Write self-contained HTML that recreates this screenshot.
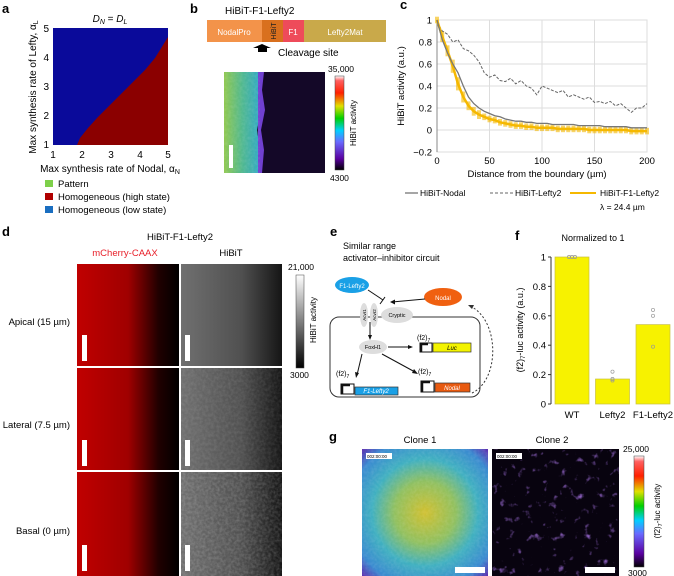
<!DOCTYPE html>
<html><head><meta charset="utf-8"><style>
body{margin:0;background:#fff;width:674px;height:576px;overflow:hidden;font-family:"Liberation Sans",sans-serif}
svg{display:block}
text{font-family:"Liberation Sans",sans-serif}
</style></head><body>
<svg id="fig" width="674" height="576" viewBox="0 0 674 576" xmlns="http://www.w3.org/2000/svg">
<defs>
<linearGradient id="rainbow" x1="0" y1="1" x2="0" y2="0">
<stop offset="0" stop-color="#000"/><stop offset="0.12" stop-color="#5a00a0"/><stop offset="0.3" stop-color="#6a6aff"/><stop offset="0.42" stop-color="#00d0ff"/><stop offset="0.55" stop-color="#00d000"/><stop offset="0.68" stop-color="#e0e000"/><stop offset="0.82" stop-color="#ff2000"/><stop offset="0.95" stop-color="#ff6060"/><stop offset="1" stop-color="#fff"/>
</linearGradient>
<linearGradient id="gray" x1="0" y1="1" x2="0" y2="0"><stop offset="0" stop-color="#000"/><stop offset="1" stop-color="#fff"/></linearGradient>
<linearGradient id="bleft" x1="0" y1="0" x2="1" y2="0"><stop offset="0" stop-color="#90c850"/><stop offset="0.5" stop-color="#50b890"/><stop offset="1" stop-color="#30a8c8"/></linearGradient>
<linearGradient id="red" x1="0" y1="0" x2="1" y2="0"><stop offset="0" stop-color="#c00000"/><stop offset="0.5" stop-color="#a00000"/><stop offset="0.8" stop-color="#200000"/><stop offset="1" stop-color="#000"/></linearGradient>
<linearGradient id="gimg" x1="0" y1="0" x2="1" y2="0"><stop offset="0" stop-color="#707070"/><stop offset="0.6" stop-color="#505050"/><stop offset="1" stop-color="#151515"/></linearGradient>
<radialGradient id="clone1" cx="0.5" cy="0.5" r="0.7"><stop offset="0" stop-color="#d0c030"/><stop offset="0.35" stop-color="#90c060"/><stop offset="0.6" stop-color="#40b0c0"/><stop offset="0.85" stop-color="#3a8ad0"/><stop offset="1" stop-color="#5a30b0"/></radialGradient>
<filter id="noise"><feTurbulence type="fractalNoise" baseFrequency="0.35" numOctaves="2" seed="3"/><feColorMatrix values="0 0 0 0 1  0 0 0 0 1  0 0 0 0 1  0 0 0 0.5 -0.15"/><feComposite in2="SourceGraphic" operator="in"/></filter>
<filter id="specks"><feTurbulence type="fractalNoise" baseFrequency="0.12" numOctaves="3" seed="7"/><feColorMatrix values="0 0 0 0 0.45  0 0 0 0 0.2  0 0 0 0 0.9  0 0 0 4 -2.6"/><feComposite in2="SourceGraphic" operator="in"/></filter>
</defs>

<!-- Panel a -->
<g>
<text x="2" y="13" font-size="13" font-weight="bold">a</text>
<text x="110" y="22" font-size="10" text-anchor="middle" font-style="italic">D<tspan font-size="7" dy="2">N</tspan><tspan dy="-2" font-style="normal"> = </tspan>D<tspan font-size="7" dy="2">L</tspan></text>
<rect x="53" y="28" width="115" height="117" fill="#0a0a9a"/>
<polygon points="77,145 80,138 88,128 97,118 105,110 115,100 125,90 135,80 145,70 155,58 168,37 168,145" fill="#8b0000"/>
<g font-size="10" text-anchor="end">
<text x="49" y="32">5</text><text x="49" y="61">4</text><text x="49" y="90">3</text><text x="49" y="119">2</text><text x="49" y="148">1</text></g>
<g font-size="10" text-anchor="middle">
<text x="53" y="158">1</text><text x="82" y="158">2</text><text x="111" y="158">3</text><text x="140" y="158">4</text><text x="168" y="158">5</text></g>
<text x="110" y="172" font-size="10" text-anchor="middle">Max synthesis rate of Nodal, α<tspan font-size="7" dy="2">N</tspan></text>
<text transform="translate(36,87) rotate(-90)" font-size="10" text-anchor="middle">Max synthesis rate of Lefty, α<tspan font-size="7" dy="2">L</tspan></text>
<rect x="45" y="180" width="8" height="7" fill="#7ed04a"/>
<text x="58" y="187" font-size="9.5">Pattern</text>
<rect x="45" y="193" width="8" height="7" fill="#b00000"/>
<text x="58" y="200" font-size="9.5">Homogeneous (high state)</text>
<rect x="45" y="206" width="8" height="7" fill="#1a6ec0"/>
<text x="58" y="213" font-size="9.5">Homogeneous (low state)</text>
</g>

<!-- Panel b -->
<g>
<text x="190" y="13" font-size="13" font-weight="bold">b</text>
<text x="225" y="14" font-size="10">HiBiT-F1-Lefty2</text>
<rect x="207" y="20" width="55" height="22" fill="#f3934a"/>
<text x="234" y="35" font-size="8" fill="#fff" text-anchor="middle">NodalPro</text>
<rect x="262" y="20" width="21" height="22" fill="#d9701e"/>
<text transform="translate(276,31) rotate(-90)" font-size="7" text-anchor="middle" fill="#222">HiBiT</text>
<rect x="283" y="20" width="21" height="22" fill="#ee4b5a"/>
<text x="293" y="35" font-size="8" fill="#fff" text-anchor="middle">F1</text>
<rect x="304" y="20" width="82" height="22" fill="#c9a94a"/>
<text x="345" y="35" font-size="8" fill="#fff" text-anchor="middle">Lefty2Mat</text>
<polygon points="253,48 262,44 271,48 267,48 267,52 258,52 258,48" fill="#000"/>
<text x="278" y="56" font-size="10">Cleavage site</text>
<rect x="224" y="72" width="101" height="101" fill="#140828"/>
<path d="M224,72 H260 L258,90 L261,110 L257,130 L260,150 L258,173 H224 Z" fill="url(#bleft)"/>
<path d="M258,72 H264 L262,90 L265,110 L261,130 L264,150 L262,173 H258 Z" fill="#7040d0"/>
<rect x="224" y="72" width="36" height="101" fill="#ff0" filter="url(#noise)" opacity="0.35"/>
<rect x="229" y="145" width="4" height="23" fill="#fff"/>
<rect x="335" y="76" width="9" height="94" fill="url(#rainbow)" stroke="#444" stroke-width="0.5"/>
<text x="328" y="72" font-size="8.5">35,000</text>
<text x="330" y="181" font-size="8.5">4300</text>
<text transform="translate(356,123) rotate(-90)" font-size="8" text-anchor="middle">HiBiT activity</text>
</g>

<!-- Panel c -->
<g id="panelC">
<text x="400" y="9" font-size="13" font-weight="bold">c</text>
<text transform="translate(404,86) rotate(-90)" font-size="9.5" text-anchor="middle">HiBiT activity (a.u.)</text>
<text x="537" y="177" font-size="9.5" text-anchor="middle">Distance from the boundary (µm)</text>
<line x1="405" y1="193" x2="418" y2="193" stroke="#888" stroke-width="1.5"/>
<text x="420" y="196" font-size="8.5">HiBiT-Nodal</text>
<line x1="490" y1="193" x2="513" y2="193" stroke="#666" stroke-width="1" stroke-dasharray="3,2"/>
<text x="515" y="196" font-size="8.5">HiBiT-Lefty2</text>
<line x1="570" y1="193" x2="596" y2="193" stroke="#f5b800" stroke-width="2"/>
<text x="600" y="196" font-size="8.5">HiBiT-F1-Lefty2</text>
<text x="600" y="210" font-size="8.5">λ = 24.4 µm</text>
</g>

<!-- Panel d -->
<g>
<text x="2" y="236" font-size="13" font-weight="bold">d</text>
<text x="180" y="240" font-size="9.5" text-anchor="middle">HiBiT-F1-Lefty2</text>
<text x="125" y="256" font-size="9.5" fill="#e8202a" text-anchor="middle">mCherry-CAAX</text>
<text x="231" y="256" font-size="9.5" text-anchor="middle">HiBiT</text>
<rect x="77" y="264" width="102" height="102" fill="url(#red)"/>
<rect x="181" y="264" width="101" height="102" fill="url(#gimg)"/>
<rect x="77" y="368" width="102" height="102" fill="url(#red)"/>
<rect x="181" y="368" width="101" height="102" fill="url(#gimg)"/>
<rect x="181" y="368" width="101" height="102" fill="#fff" filter="url(#noise)" opacity="0.35"/>
<rect x="77" y="472" width="102" height="104" fill="url(#red)"/>
<rect x="181" y="472" width="101" height="104" fill="url(#gimg)"/>
<rect x="181" y="472" width="101" height="104" fill="#fff" filter="url(#noise)" opacity="0.6"/>
<g fill="#fff">
<rect x="82" y="335" width="5" height="26"/><rect x="185" y="335" width="5" height="26"/>
<rect x="82" y="440" width="5" height="26"/><rect x="185" y="440" width="5" height="26"/>
<rect x="82" y="545" width="5" height="26"/><rect x="185" y="545" width="5" height="26"/></g>
<text x="70" y="325" font-size="9.5" text-anchor="end">Apical (15 µm)</text>
<text x="70" y="428" font-size="9.5" text-anchor="end">Lateral (7.5 µm)</text>
<text x="70" y="534" font-size="9.5" text-anchor="end">Basal (0 µm)</text>
<rect x="296" y="275" width="8" height="93" fill="url(#gray)" stroke="#444" stroke-width="0.5"/>
<text x="288" y="270" font-size="8.5">21,000</text>
<text x="290" y="378" font-size="8.5">3000</text>
<text transform="translate(316,320) rotate(-90)" font-size="8" text-anchor="middle">HiBiT activity</text>
</g>

<!-- Panel e -->
<g font-size="8">
<text x="330" y="236" font-size="13" font-weight="bold">e</text>
<text x="343" y="249" font-size="9">Similar range</text>
<text x="343" y="261" font-size="9">activator–inhibitor circuit</text>
<rect x="330" y="317" width="150" height="80" rx="9" fill="none" stroke="#333" stroke-width="1"/>
<ellipse cx="352" cy="285" rx="17" ry="8" fill="#1aa0e6"/>
<text x="352" y="288" font-size="6" fill="#fff" text-anchor="middle">F1-Lefty2</text>
<ellipse cx="443" cy="297" rx="19" ry="9" fill="#f06010"/>
<text x="443" y="300" font-size="6" fill="#fff" text-anchor="middle">Nodal</text>
<ellipse cx="364" cy="315" rx="4" ry="12" fill="#ddd"/>
<ellipse cx="374" cy="315" rx="4" ry="12" fill="#ddd"/>
<ellipse cx="397" cy="315" rx="16" ry="8" fill="#ddd"/>
<text x="397" y="317" font-size="5.5" text-anchor="middle">Cryptic</text>
<text transform="translate(366,315) rotate(-90)" font-size="4.5" text-anchor="middle">Acvr1</text>
<text transform="translate(376,315) rotate(-90)" font-size="4.5" text-anchor="middle">Acvr2</text>
<line x1="368" y1="290" x2="383" y2="300" stroke="#111"/><line x1="380" y1="304" x2="385" y2="297" stroke="#111"/>
<line x1="425" y1="299" x2="392" y2="302" stroke="#111"/><polygon points="390,302 395,299.5 395,304.5" fill="#111"/>
<ellipse cx="373" cy="347" rx="14" ry="7" fill="#ddd"/>
<text x="373" y="349" font-size="5.5" text-anchor="middle">FoxH1</text>
<line x1="370" y1="322" x2="370" y2="337" stroke="#111"/><polygon points="370,340 368,335 372,335" fill="#111"/>
<line x1="388" y1="347" x2="410" y2="347" stroke="#111"/><polygon points="413,347 408,345 408,349" fill="#111"/>
<line x1="362" y1="354" x2="357" y2="375" stroke="#111"/><polygon points="356,378 355,372 359,373" fill="#111"/>
<line x1="382" y1="354" x2="415" y2="372" stroke="#111"/><polygon points="418,374 412,373 414,369" fill="#111"/>
<path d="M472,393 C500,380 500,320 470,306" fill="none" stroke="#333" stroke-dasharray="2,2"/><polygon points="468,305 474,305 472,309" fill="#333"/>
<text x="417" y="340" font-size="7">(f2)<tspan font-size="5" dy="2">7</tspan></text>
<rect x="420" y="343" width="12" height="9" fill="#fff" stroke="#111"/><path d="M421,352 V344 H428" fill="none" stroke="#111" stroke-width="2.5"/>
<rect x="433" y="343" width="38" height="9" fill="#f3f300" stroke="#333" stroke-width="0.7"/>
<text x="452" y="350" font-size="6" font-style="italic" text-anchor="middle">Luc</text>
<text x="336" y="376" font-size="7">(f2)<tspan font-size="5" dy="2">7</tspan></text>
<rect x="341" y="384" width="13" height="10" fill="#fff" stroke="#111"/><path d="M342,394 V385 H350" fill="none" stroke="#111" stroke-width="2.5"/>
<rect x="355" y="387" width="43" height="8" fill="#1aa0e6" stroke="#333" stroke-width="0.7"/>
<text x="376" y="393" font-size="6" font-style="italic" fill="#fff" text-anchor="middle">F1-Lefty2</text>
<text x="418" y="374" font-size="7">(f2)<tspan font-size="5" dy="2">7</tspan></text>
<rect x="421" y="381" width="13" height="11" fill="#fff" stroke="#111"/><path d="M422,392 V382 H430" fill="none" stroke="#111" stroke-width="2.5"/>
<rect x="435" y="383" width="35" height="9" fill="#e85a10" stroke="#333" stroke-width="0.7"/>
<text x="452" y="390" font-size="6" font-style="italic" fill="#fff" text-anchor="middle">Nodal</text>
</g>

<!-- Panel f -->
<g id="panelF">
<text x="515" y="240" font-size="13" font-weight="bold">f</text>
<text x="593" y="241" font-size="9" text-anchor="middle">Normalized to 1</text>
<text transform="translate(523,330) rotate(-90)" font-size="9" text-anchor="middle">(f2)<tspan font-size="6" dy="2">7</tspan><tspan dy="-2">-luc activity (a.u.)</tspan></text>
</g>

<!-- Panel g -->
<g>
<text x="329" y="441" font-size="13" font-weight="bold">g</text>
<text x="420" y="443" font-size="9.5" text-anchor="middle">Clone 1</text>
<text x="552" y="443" font-size="9.5" text-anchor="middle">Clone 2</text>
<rect x="362" y="449" width="126" height="127" fill="url(#clone1)"/>
<rect x="362" y="449" width="126" height="127" fill="#fff" filter="url(#noise)" opacity="0.35"/>
<rect x="492" y="449" width="127" height="127" fill="#08030f"/>
<rect x="492" y="449" width="127" height="127" fill="#6a30d0" filter="url(#specks)" opacity="0.75"/>
<rect x="366" y="453" width="26" height="6" fill="#fff"/>
<text x="367" y="458" font-size="4.5">002:00:00</text>
<rect x="496" y="453" width="26" height="6" fill="#fff"/>
<text x="497" y="458" font-size="4.5">002:00:00</text>
<rect x="455" y="567" width="30" height="6" fill="#fff"/>
<rect x="585" y="567" width="30" height="6" fill="#fff"/>
<rect x="634" y="456" width="10" height="111" fill="url(#rainbow)" stroke="#444" stroke-width="0.5"/>
<text x="623" y="452" font-size="8.5">25,000</text>
<text x="628" y="576" font-size="8.5">3000</text>
<text transform="translate(660,511) rotate(-90)" font-size="8" text-anchor="middle">(f2)<tspan font-size="5.5" dy="2">7</tspan><tspan dy="-2">-luc activity</tspan></text>
</g>
</svg>
<script>
// ---- Panel c data (every 5 µm, 0..200) ----
const distances = [0,5,10,15,20,25,30,35,40,45,50,55,60,65,70,75,80,85,90,95,100,105,110,115,120,125,130,135,140,145,150,155,160,165,170,175,180,185,190,195,200];
const nodalValues = [1,0.82,0.7,0.6,0.52,0.4,0.3,0.24,0.2,0.17,0.15,0.13,0.12,0.1,0.09,0.08,0.08,0.07,0.07,0.06,0.06,0.06,0.05,0.05,0.05,0.05,0.05,0.04,0.04,0.04,0.04,0.04,0.03,0.03,0.03,0.03,0.03,0.02,0.02,0.02,0.02];
const lefty2Values = [0.98,0.9,0.87,0.8,0.82,0.74,0.72,0.68,0.62,0.52,0.48,0.5,0.45,0.44,0.47,0.42,0.45,0.4,0.38,0.32,0.4,0.38,0.36,0.34,0.36,0.3,0.32,0.3,0.28,0.3,0.25,0.26,0.24,0.26,0.22,0.24,0.2,0.16,0.2,0.2,0.24];
const f1Values = [1,0.85,0.72,0.58,0.42,0.3,0.22,0.17,0.14,0.12,0.1,0.09,0.07,0.06,0.05,0.04,0.04,0.03,0.03,0.02,0.02,0.02,0.02,0.01,0.01,0.01,0.01,0.01,0.01,0.0,0.0,0.0,0.0,0.0,0.0,0.0,0.0,-0.01,-0.01,-0.01,-0.01];
const f1Errors = [0.03,0.05,0.05,0.06,0.06,0.05,0.04,0.04,0.04,0.03,0.03,0.03,0.03,0.03,0.03,0.03,0.03,0.03,0.03,0.03,0.03,0.03,0.03,0.03,0.03,0.03,0.03,0.03,0.03,0.03,0.03,0.03,0.03,0.03,0.03,0.03,0.03,0.03,0.03,0.03,0.03];
const cYTicks = [1,0.8,0.6,0.4,0.2,0,-0.2];
const cYTickLabels = ["1","0.8","0.6","0.4","0.2","0","−0.2"];
const cXTicks = [0,50,100,150,200];

// ---- Panel f data ----
const fCategories = ["WT","Lefty2","F1-Lefty2"];
const fValues = [1,0.17,0.54];
const fPoints = [[1,1,1],[0.22,0.17,0.16],[0.64,0.6,0.39]];
const fYTicks = [0,0.2,0.4,0.6,0.8,1];
const fYTickLabels = ["0","0.2","0.4","0.6","0.8","1"];

const NS="http://www.w3.org/2000/svg";
function mk(tag, attrs, parent){const e=document.createElementNS(NS,tag);for(const k in attrs)e.setAttribute(k,attrs[k]);parent.appendChild(e);return e;}

// Panel c
const gc=document.getElementById('panelC');
const cx=v=>437+(v/200)*210;
const cy=v=>130-(v/0.2)*22;
mk('rect',{x:437,y:20,width:210,height:132,fill:'none',stroke:'#ddd'},gc);
cYTicks.forEach((t,i)=>{
  const l=mk('line',{x1:437,x2:647,y1:cy(t),y2:cy(t),stroke:'#ddd'},gc);
  
  
  const tx=mk('text',{x:432,y:cy(t)+3.5,'font-size':9.5,'text-anchor':'end'},gc);
  tx.textContent=cYTickLabels[i];
  
  
});
cXTicks.forEach(t=>{
  const l=mk('line',{x1:cx(t),x2:cx(t),y1:20,y2:152,stroke:'#ddd'},gc);
  
  
  const tx=mk('text',{x:cx(t),y:164,'font-size':9.5,'text-anchor':'middle'},gc);
  tx.textContent=String(t);
  
  
});
mk('line',{x1:437,x2:437,y1:20,y2:152,stroke:'#888'},gc);
function path(vals){return vals.map((v,i)=>(i?'L':'M')+cx(distances[i]).toFixed(1)+','+cy(v).toFixed(1)).join(' ');}
distances.forEach((d,i)=>{
  const eb=mk('line',{x1:cx(d),x2:cx(d),y1:cy(f1Values[i]+f1Errors[i]),y2:cy(f1Values[i]-f1Errors[i]),stroke:'#f5b800','stroke-width':4,opacity:0.6},gc);
  
  
});
const pl=mk('path',{d:path(lefty2Values),fill:'none',stroke:'#666','stroke-width':1,'stroke-dasharray':'3,1.5'},gc);


const pf=mk('path',{d:path(f1Values),fill:'none',stroke:'#f5b800','stroke-width':2.5},gc);


const pn=mk('path',{d:path(nodalValues),fill:'none',stroke:'#777','stroke-width':1.3},gc);



// Panel f
const gf=document.getElementById('panelF');
const fy=v=>404-(v/0.2)*29.4;
const fx=i=>555+i*40.5;
mk('line',{x1:551,x2:551,y1:fy(1),y2:fy(0),stroke:'#333'},gf);
fYTicks.forEach((t,i)=>{
  mk('line',{x1:548,x2:551,y1:fy(t),y2:fy(t),stroke:'#333'},gf);
  const tx=mk('text',{x:546,y:fy(t)+3.5,'font-size':9.5,'text-anchor':'end'},gf);
  tx.textContent=fYTickLabels[i];
  
  
});
fCategories.forEach((c,i)=>{
  const b=mk('rect',{x:fx(i),y:fy(fValues[i]),width:34,height:fy(0)-fy(fValues[i]),fill:'#f7f200',stroke:'#c8c040','stroke-width':0.7},gf);
  
  
  fPoints[i].forEach((p,j)=>{
    const dot=mk('circle',{cx:fx(i)+17+(fPoints[i].every(v=>v===p)?(j-1)*3:0),cy:fy(p),r:1.6,fill:'none',stroke:'#999','stroke-width':0.7},gf);
    
    
  });
  const tx=mk('text',{x:fx(i)+17,y:fy(0)+14,'font-size':9.5,'text-anchor':'middle'},gf);
  tx.textContent=c;
  
  
});
</script>
</body></html>
